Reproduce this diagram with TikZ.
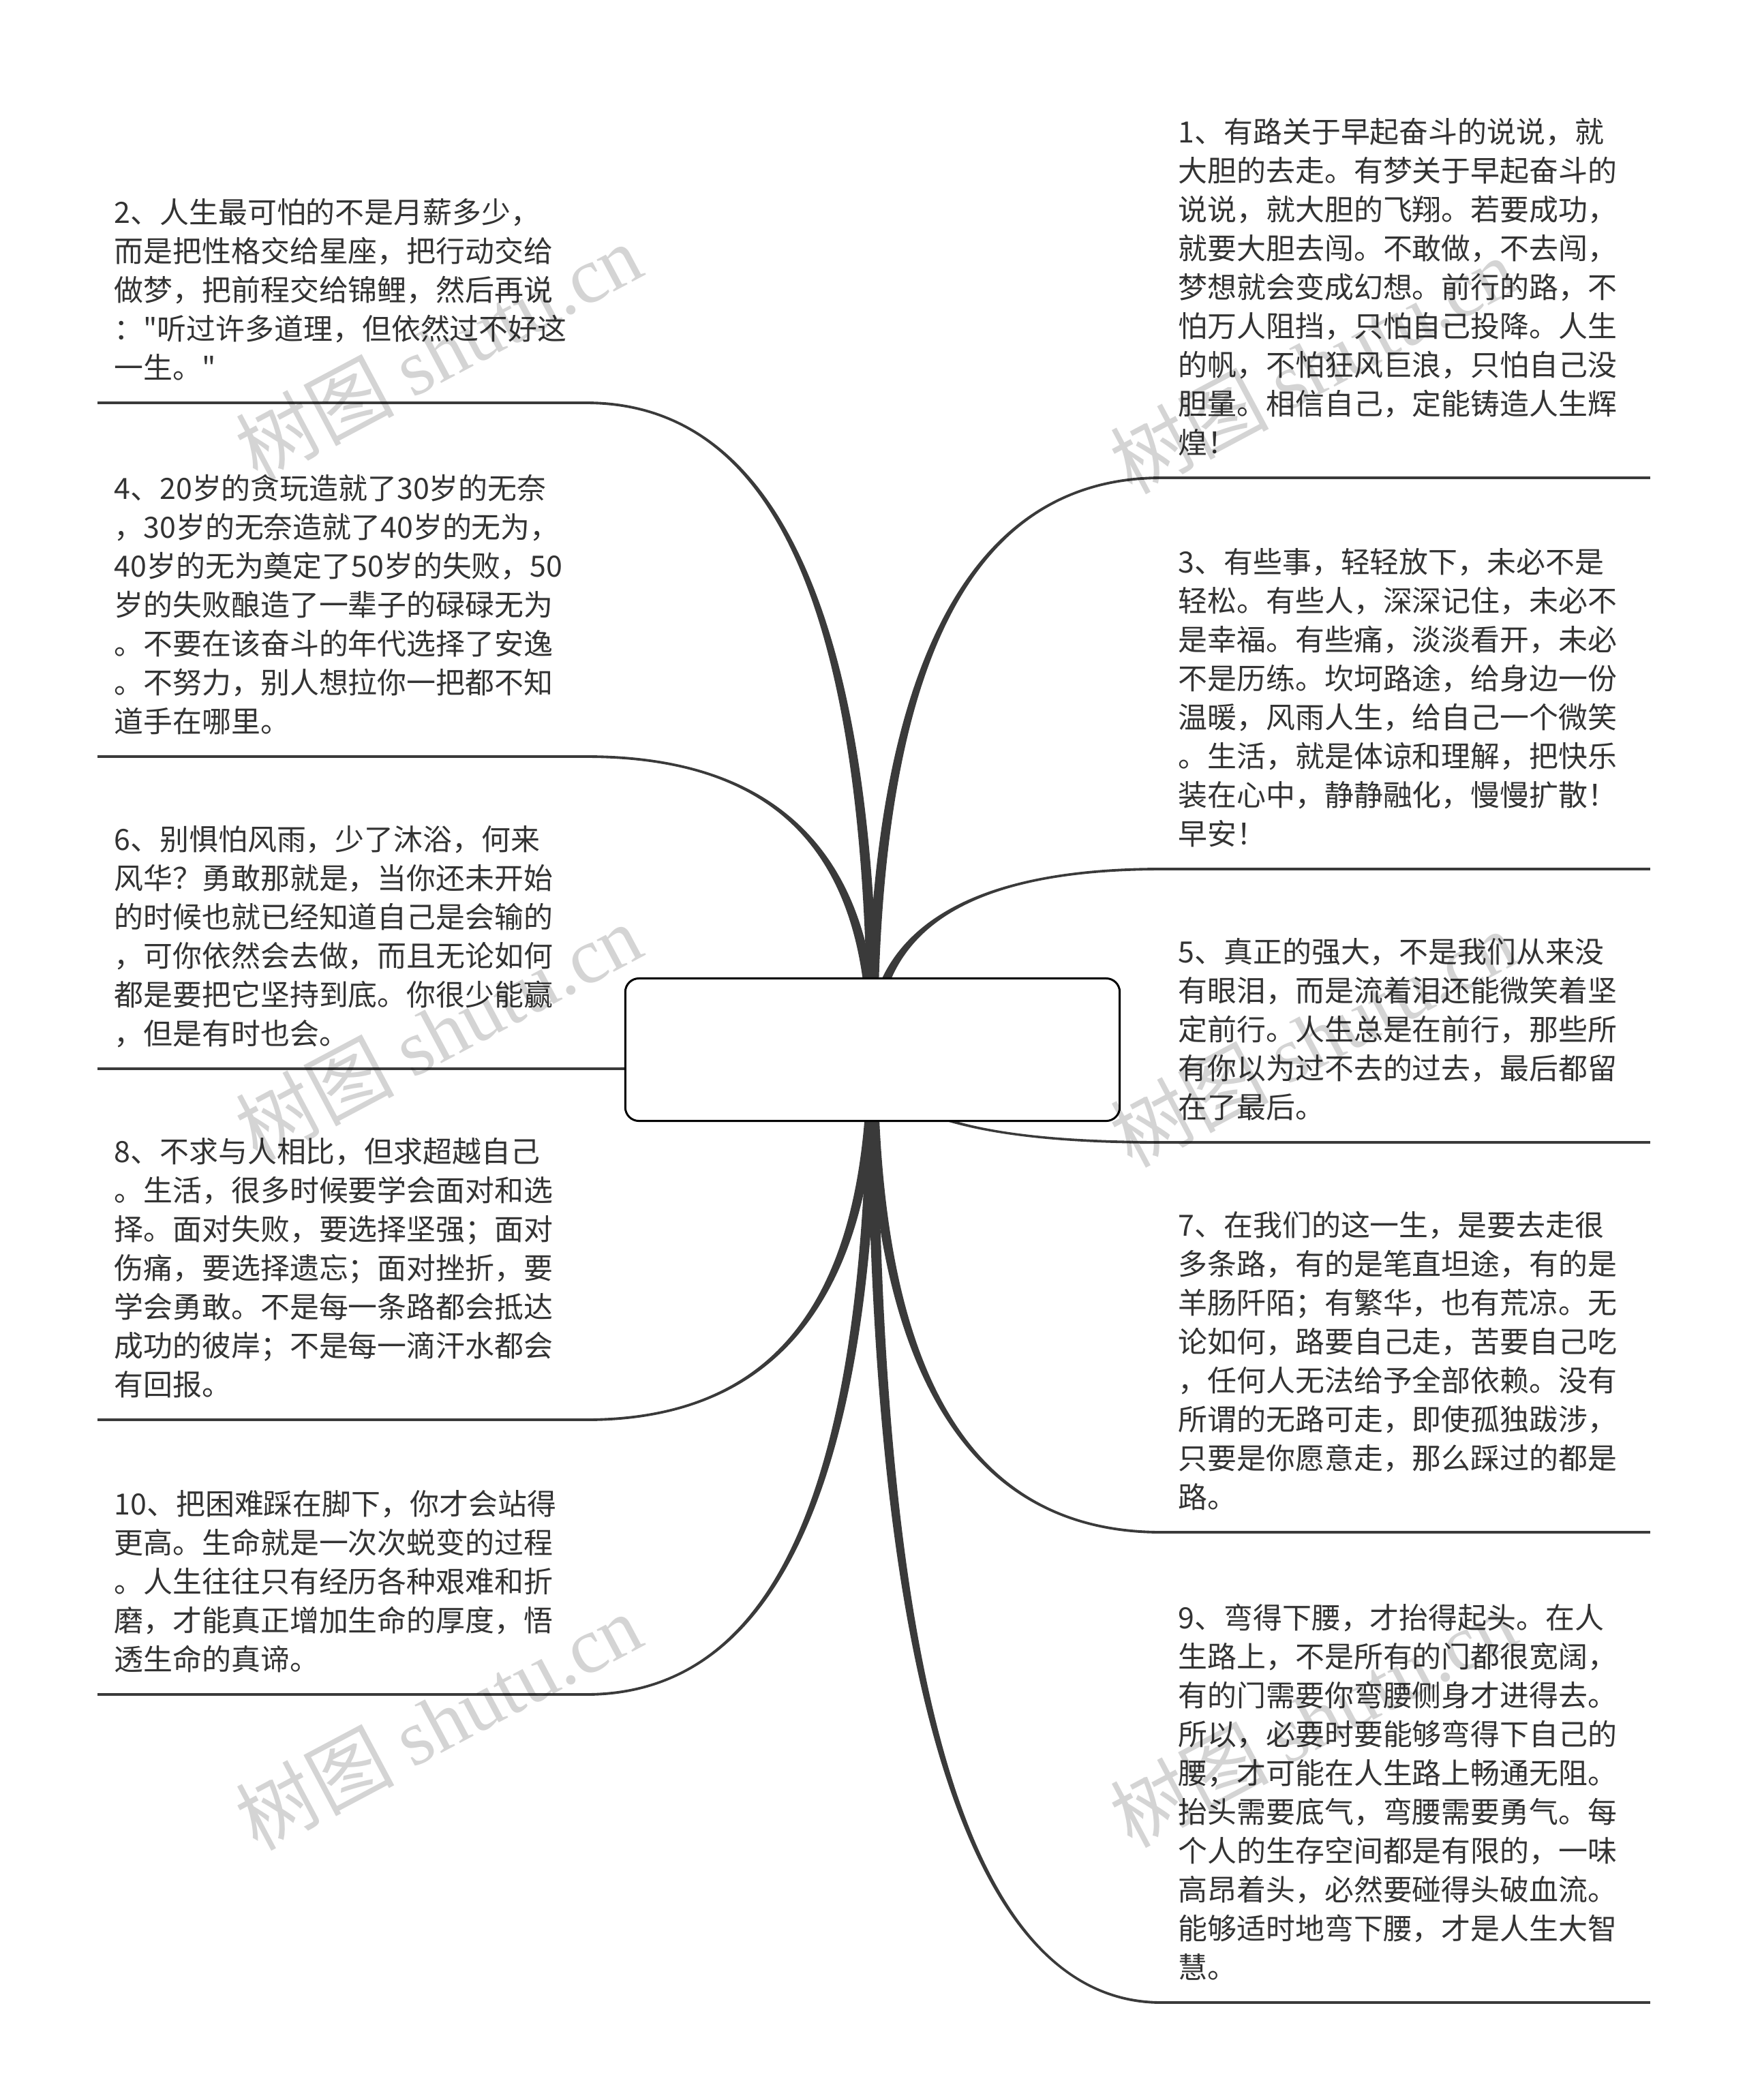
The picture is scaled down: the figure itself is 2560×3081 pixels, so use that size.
\documentclass[tikz,border=0pt]{standalone}
\usepackage{fontspec}
\setmainfont{Noto Sans CJK SC}
\newfontfamily\leaffont{Noto Sans CJK SC}
\newfontfamily\wmlatin{Liberation Serif}
\usepackage{tikz}
\usetikzlibrary{calc,positioning}
\definecolor{mmink}{RGB}{51,51,51}
\definecolor{mmline}{RGB}{58,58,58}
\tikzstyle{hubbox} = [rectangle, rounded corners=0.2cm, minimum width=7.25cm, minimum height=2.09cm, draw=black, fill=white, line width=0.85pt]
\tikzstyle{leaftext} = [anchor=south west, text width=6.67cm, align=left, inner xsep=0.24cm, inner ysep=5pt, text=mmink, font=\leaffont\fontsize{12.2}{16.2}\selectfont, execute at end node={\strut}]
\tikzstyle{underrule} = [line width=1.1pt, color=mmline]
\tikzstyle{twig} = [fill=mmline]
\tikzstyle{stamp} = [rotate=28, text=black, text opacity=0.17, font=\fontsize{33}{33}\selectfont]
\pgfdeclarelayer{bg}
\pgfsetlayers{bg,main}
% tapered branch: from, to, end offset sign
\newcommand{\twig}[3]{%
  \fill[twig] let \p1=(#1), \p2=(#2) in
    ({\x1-2.2pt},\y1) .. controls ({\x1-2.2pt},{\y1+0.667*(\y2-\y1)}) and ({\x2+0.667*(\x1-\x2)},{\y2+(#3)}) .. (\x2,{\y2+(#3)})
    -- (\x2,{\y2-(#3)}) .. controls ({\x2+0.667*(\x1-\x2)},{\y2-(#3)}) and ({\x1+2.2pt},{\y1+0.667*(\y2-\y1)}) .. ({\x1+2.2pt},\y1) -- cycle;}

\begin{document}
\begin{tikzpicture}[x=0.01cm, y=-0.01cm]
\useasboundingbox (0,0) rectangle (2560,3081);

% Central node
\node[hubbox] (root) at (1280,1540) {};

% Right side
\node[leaftext] (t1) at (1704,701) {1、有路关于早起奋斗的说说，就\\大胆的去走。有梦关于早起奋斗的\\说说，就大胆的飞翔。若要成功，\\就要大胆去闯。不敢做，不去闯，\\梦想就会变成幻想。前行的路，不\\怕万人阻挡，只怕自己投降。人生\\的帆，不怕狂风巨浪，只怕自己没\\胆量。相信自己，定能铸造人生辉\\煌！};
\node[leaftext] (t3) at (1704,1275) {3、有些事，轻轻放下，未必不是\\轻松。有些人，深深记住，未必不\\是幸福。有些痛，淡淡看开，未必\\不是历练。坎坷路途，给身边一份\\温暖，风雨人生，给自己一个微笑\\。生活，就是体谅和理解，把快乐\\装在心中，静静融化，慢慢扩散！\\早安！};
\node[leaftext] (t5) at (1704,1676) {5、真正的强大，不是我们从来没\\有眼泪，而是流着泪还能微笑着坚\\定前行。人生总是在前行，那些所\\有你以为过不去的过去，最后都留\\在了最后。};
\node[leaftext] (t7) at (1704,2248) {7、在我们的这一生，是要去走很\\多条路，有的是笔直坦途，有的是\\羊肠阡陌；有繁华，也有荒凉。无\\论如何，路要自己走，苦要自己吃\\，任何人无法给予全部依赖。没有\\所谓的无路可走，即使孤独跋涉，\\只要是你愿意走，那么踩过的都是\\路。};
\node[leaftext] (t9) at (1704,2938) {9、弯得下腰，才抬得起头。在人\\生路上，不是所有的门都很宽阔，\\有的门需要你弯腰侧身才进得去。\\所以，必要时要能够弯得下自己的\\腰，才可能在人生路上畅通无阻。\\抬头需要底气，弯腰需要勇气。每\\个人的生存空间都是有限的，一味\\高昂着头，必然要碰得头破血流。\\能够适时地弯下腰，才是人生大智\\慧。};

% Left side
\node[leaftext] (t2) at (143,591) {2、人生最可怕的不是月薪多少，\\而是把性格交给星座，把行动交给\\做梦，把前程交给锦鲤，然后再说\\："听过许多道理，但依然过不好这\\一生。"};
\node[leaftext] (t4) at (143,1110) {4、20岁的贪玩造就了30岁的无奈\\，30岁的无奈造就了40岁的无为，\\40岁的无为奠定了50岁的失败，50\\岁的失败酿造了一辈子的碌碌无为\\。不要在该奋斗的年代选择了安逸\\。不努力，别人想拉你一把都不知\\道手在哪里。};
\node[leaftext] (t6) at (143,1568) {6、别惧怕风雨，少了沐浴，何来\\风华？勇敢那就是，当你还未开始\\的时候也就已经知道自己是会输的\\，可你依然会去做，而且无论如何\\都是要把它坚持到底。你很少能赢\\，但是有时也会。};
\node[leaftext] (t8) at (143,2083) {8、不求与人相比，但求超越自己\\。生活，很多时候要学会面对和选\\择。面对失败，要选择坚强；面对\\伤痛，要选择遗忘；面对挫折，要\\学会勇敢。不是每一条路都会抵达\\成功的彼岸；不是每一滴汗水都会\\有回报。};
\node[leaftext] (t10) at (143,2486) {10、把困难踩在脚下，你才会站得\\更高。生命就是一次次蜕变的过程\\。人生往往只有经历各种艰难和折\\磨，才能真正增加生命的厚度，悟\\透生命的真谛。};

% Underlines
\foreach \n in {t1,t2,t3,t4,t5,t6,t7,t8,t9,t10}
  \draw[underrule] (\n.south west) -- (\n.south east);

% Branches
\begin{pgfonlayer}{bg}
\fill[white] (0,0) rectangle (2560,3081);
\twig{root}{t1.south west}{0.55pt}
\twig{root}{t3.south west}{0.55pt}
\twig{root}{t5.south west}{-0.55pt}
\twig{root}{t7.south west}{-0.55pt}
\twig{root}{t9.south west}{-0.55pt}
\twig{root}{t2.south east}{-0.55pt}
\twig{root}{t4.south east}{-0.55pt}
\twig{root}{t6.south east}{0.55pt}
\twig{root}{t8.south east}{0.55pt}
\twig{root}{t10.south east}{0.55pt}
\end{pgfonlayer}

% Watermarks
\node[stamp] (wm1) at (643,515) {树图 {\wmlatin shutu.cn}};
\node[stamp] (wm2) at (643,1513) {树图 {\wmlatin shutu.cn}};
\node[stamp] (wm3) at (643,2525) {树图 {\wmlatin shutu.cn}};
\node[stamp] (wm4) at (1926,535) {树图 {\wmlatin shutu.cn}};
\node[stamp] (wm5) at (1926,1523) {树图 {\wmlatin shutu.cn}};
\node[stamp] (wm6) at (1926,2521) {树图 {\wmlatin shutu.cn}};
\end{tikzpicture}
\end{document}
